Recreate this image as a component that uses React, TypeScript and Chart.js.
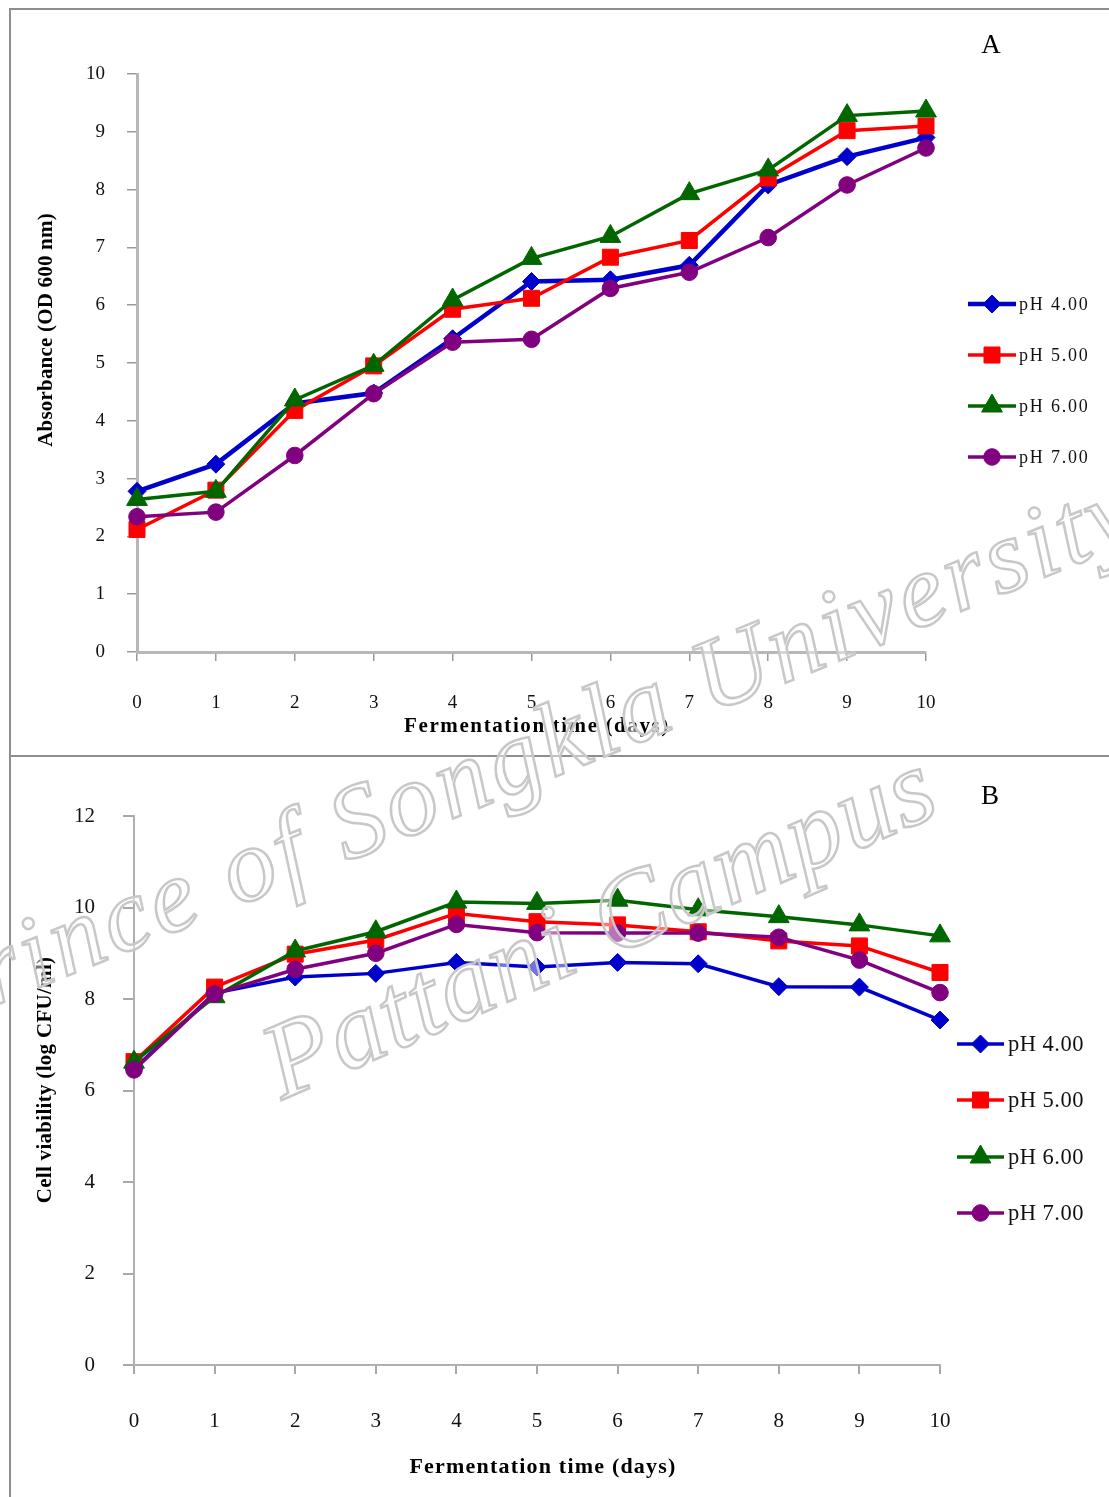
import React, { useEffect, useRef } from 'react';
import { Chart, registerables } from 'chart.js';

Chart.register(...registerables);

// ---------- data ----------
const days = [0, 1, 2, 3, 4, 5, 6, 7, 8, 9, 10];
const seriesLabels = ['pH 4.00', 'pH 5.00', 'pH 6.00', 'pH 7.00'];

// Panel A: Absorbance (OD 600 nm)
const absorbancePH4 = [2.78, 3.25, 4.3, 4.48, 5.42, 6.41, 6.44, 6.69, 8.08, 8.57, 8.9];
const absorbancePH5 = [2.12, 2.8, 4.18, 4.95, 5.93, 6.12, 6.83, 7.12, 8.2, 9.02, 9.1];
const absorbancePH6 = [2.64, 2.78, 4.36, 4.96, 6.09, 6.81, 7.19, 7.93, 8.34, 9.28, 9.36];
const absorbancePH7 = [2.34, 2.42, 3.4, 4.47, 5.36, 5.41, 6.29, 6.57, 7.17, 8.08, 8.72];

// Panel B: Cell viability (log CFU/ml)
const viabilityPH4 = [6.47, 8.13, 8.48, 8.56, 8.8, 8.7, 8.8, 8.77, 8.27, 8.26, 7.54];
const viabilityPH5 = [6.63, 8.26, 8.98, 9.29, 9.87, 9.69, 9.62, 9.47, 9.27, 9.16, 8.58];
const viabilityPH6 = [6.62, 8.05, 9.05, 9.47, 10.12, 10.09, 10.16, 9.95, 9.8, 9.62, 9.38];
const viabilityPH7 = [6.45, 8.11, 8.65, 9.0, 9.63, 9.45, 9.44, 9.44, 9.35, 8.85, 8.14];

const absorbanceYTicks = [0, 1, 2, 3, 4, 5, 6, 7, 8, 9, 10];
const viabilityYTicks = [0, 2, 4, 6, 8, 10, 12];
const dayTicks = [0, 1, 2, 3, 4, 5, 6, 7, 8, 9, 10];

// ---------- styles ----------
const SERIF = '"Liberation Serif", "Times New Roman", serif';
const seriesColors = ['#0000CC', '#FF0000', '#006600', '#800080'];
const seriesMarkers = ['rectRot', 'rect', 'triangle', 'circle'];
const markerRadius = [9, 11.3, 12, 8.3];

function drawMarker(ctx: CanvasRenderingContext2D, style: string, x: number, y: number, r: number, color: string) {
  ctx.beginPath();
  if (style === 'circle') {
    ctx.arc(x, y, r, 0, Math.PI * 2);
  } else if (style === 'rect') {
    const h = r * Math.SQRT1_2;
    ctx.rect(x - h, y - h, 2 * h, 2 * h);
  } else if (style === 'rectRot') {
    ctx.moveTo(x, y - r);
    ctx.lineTo(x + r, y);
    ctx.lineTo(x, y + r);
    ctx.lineTo(x - r, y);
    ctx.closePath();
  } else {
    ctx.moveTo(x, y - r);
    ctx.lineTo(x + 0.866 * r, y + 0.5 * r);
    ctx.lineTo(x - 0.866 * r, y + 0.5 * r);
    ctx.closePath();
  }
  ctx.fillStyle = color;
  ctx.fill();
  ctx.lineWidth = 1;
  ctx.strokeStyle = color;
  ctx.stroke();
}

type OverlayCfg = {
  legendY: number[];
  legendX1: number;
  legendX2: number;
  legendTextX: number;
  legendFont: string;
  legendSpacing: string;
  panelLabel: string;
  panelLabelX: number;
  panelLabelY: number;
  panelLabelFont: string;
  xTitle: string;
  xTitleX: number;
  xTitleY: number;
  xTitleFont: string;
  xTitleSpacing: string;
  yTitle: string;
  yTitleX: number;
  yTitleY: number;
  yTitleFont: string;
  yTitleSpacing: string;
};

function makeOverlay(cfg: OverlayCfg) {
  return {
    id: 'overlay',
    afterDraw(chart: any) {
      const ctx: CanvasRenderingContext2D = chart.ctx;
      ctx.save();
      // legend
      chart.data.datasets.forEach((ds: any, i: number) => {
        const y = cfg.legendY[i];
        ctx.beginPath();
        ctx.strokeStyle = ds.borderColor;
        ctx.lineWidth = ds.borderWidth;
        ctx.moveTo(cfg.legendX1, y);
        ctx.lineTo(cfg.legendX2, y);
        ctx.stroke();
        drawMarker(ctx, ds.pointStyle, (cfg.legendX1 + cfg.legendX2) / 2, y, ds.pointRadius, ds.borderColor);
        ctx.fillStyle = '#111';
        ctx.font = cfg.legendFont;
        (ctx as any).letterSpacing = cfg.legendSpacing;
        ctx.textAlign = 'left';
        ctx.textBaseline = 'middle';
        ctx.fillText(ds.label, cfg.legendTextX, y + 1);
      });
      // panel label
      (ctx as any).letterSpacing = '0px';
      ctx.font = cfg.panelLabelFont;
      ctx.fillStyle = '#000';
      ctx.textAlign = 'center';
      ctx.textBaseline = 'middle';
      ctx.fillText(cfg.panelLabel, cfg.panelLabelX, cfg.panelLabelY);
      // x title
      ctx.font = cfg.xTitleFont;
      (ctx as any).letterSpacing = cfg.xTitleSpacing;
      ctx.fillText(cfg.xTitle, cfg.xTitleX, cfg.xTitleY);
      // y title
      ctx.translate(cfg.yTitleX, cfg.yTitleY);
      ctx.rotate(-Math.PI / 2);
      ctx.font = cfg.yTitleFont;
      (ctx as any).letterSpacing = cfg.yTitleSpacing;
      ctx.fillText(cfg.yTitle, 0, 0);
      ctx.restore();
    },
  };
}

function buildDatasets(values: number[][], lineWidths: number[]) {
  return values.map((vals, i) => ({
    label: seriesLabels[i],
    data: days.map((d, j) => ({ x: d, y: vals[j] })),
    borderColor: seriesColors[i],
    backgroundColor: seriesColors[i],
    pointBackgroundColor: seriesColors[i],
    pointBorderColor: seriesColors[i],
    pointStyle: seriesMarkers[i],
    pointRadius: markerRadius[i],
    pointBorderWidth: 1,
    borderWidth: lineWidths[i],
    tension: 0,
    clip: false,
    order: values.length - i,
  }));
}

type PanelCfg = {
  width: number;
  height: number;
  area: { left: number; top: number; right: number; bottom: number };
  yTicks: number[];
  values: number[][];
  lineWidths: number[];
  tickFont: number;
  yTickLen: number;
  yTickPad: number;
  xTickLen: number;
  xTickPad: number;
  axisColor: string;
  axisWidth: number;
  tickColor: string;
  tickWidth: number;
  overlay: OverlayCfg;
};

function ChartPanel({ cfg, top }: { cfg: PanelCfg; top: number }) {
  const ref = useRef<HTMLCanvasElement>(null);
  useEffect(() => {
    const { area } = cfg;
    const chart = new Chart(ref.current as HTMLCanvasElement, {
      type: 'line',
      data: { datasets: buildDatasets(cfg.values, cfg.lineWidths) as any },
      options: {
        animation: false,
        responsive: false,
        devicePixelRatio: 1,
        layout: { padding: { left: 0, top: area.top, right: cfg.width - area.right, bottom: 0 } },
        plugins: { legend: { display: false }, tooltip: { enabled: false } },
        scales: {
          x: {
            type: 'linear',
            min: dayTicks[0],
            max: dayTicks[dayTicks.length - 1],
            afterFit: (s: any) => {
              s.height = cfg.height - area.bottom;
            },
            afterBuildTicks: (s: any) => {
              s.ticks = dayTicks.map((v) => ({ value: v }));
            },
            ticks: {
              color: '#111',
              font: { family: SERIF, size: cfg.tickFont },
              padding: cfg.xTickPad,
              maxRotation: 0,
              autoSkip: false,
            },
            grid: {
              display: true,
              drawOnChartArea: false,
              drawTicks: true,
              tickLength: cfg.xTickLen,
              tickColor: cfg.tickColor,
              tickWidth: cfg.tickWidth,
              color: cfg.tickColor,
              lineWidth: cfg.tickWidth,
            },
            border: { display: true, color: cfg.axisColor, width: cfg.axisWidth },
          },
          y: {
            type: 'linear',
            min: cfg.yTicks[0],
            max: cfg.yTicks[cfg.yTicks.length - 1],
            afterFit: (s: any) => {
              s.width = area.left;
            },
            afterBuildTicks: (s: any) => {
              s.ticks = cfg.yTicks.map((v) => ({ value: v }));
            },
            ticks: {
              color: '#111',
              font: { family: SERIF, size: cfg.tickFont },
              padding: cfg.yTickPad,
            },
            grid: {
              display: true,
              drawOnChartArea: false,
              drawTicks: true,
              tickLength: cfg.yTickLen,
              tickColor: cfg.tickColor,
              tickWidth: cfg.tickWidth,
              color: cfg.tickColor,
              lineWidth: cfg.tickWidth,
            },
            border: { display: true, color: cfg.axisColor, width: cfg.axisWidth },
          },
        },
      } as any,
      plugins: [makeOverlay(cfg.overlay) as any],
    });
    return () => chart.destroy();
  }, []);
  return (
    <canvas
      ref={ref}
      width={cfg.width}
      height={cfg.height}
      style={{ position: 'absolute', left: 0, top, width: cfg.width, height: cfg.height }}
    />
  );
}

const panelA: PanelCfg = {
  width: 1109,
  height: 756,
  area: { left: 137, top: 74, right: 926, bottom: 652 },
  yTicks: absorbanceYTicks,
  values: [absorbancePH4, absorbancePH5, absorbancePH6, absorbancePH7],
  lineWidths: [4.5, 3.5, 3.5, 3.5],
  tickFont: 19,
  yTickLen: 10,
  yTickPad: 22,
  xTickLen: 9,
  xTickPad: 31,
  axisColor: '#b7b7b7',
  axisWidth: 3,
  tickColor: '#9a9a9a',
  tickWidth: 1.5,
  overlay: {
    legendY: [304, 355, 406, 457],
    legendX1: 968,
    legendX2: 1016,
    legendTextX: 1019,
    legendFont: `18px ${SERIF}`,
    legendSpacing: '1.8px',
    panelLabel: 'A',
    panelLabelX: 991,
    panelLabelY: 46,
    panelLabelFont: `27px ${SERIF}`,
    xTitle: 'Fermentation time (days)',
    xTitleX: 537,
    xTitleY: 727,
    xTitleFont: `bold 21px ${SERIF}`,
    xTitleSpacing: '1.6px',
    yTitle: 'Absorbance (OD 600 nm)',
    yTitleX: 47,
    yTitleY: 330,
    yTitleFont: `bold 21px ${SERIF}`,
    yTitleSpacing: '0.2px',
  },
};

const panelB: PanelCfg = {
  width: 1109,
  height: 741,
  area: { left: 134, top: 60, right: 940, bottom: 609 },
  yTicks: viabilityYTicks,
  values: [viabilityPH4, viabilityPH5, viabilityPH6, viabilityPH7],
  lineWidths: [3.5, 3.5, 3.5, 3.5],
  tickFont: 21,
  yTickLen: 11,
  yTickPad: 28,
  xTickLen: 9,
  xTickPad: 35,
  axisColor: '#b0b0b0',
  axisWidth: 2,
  tickColor: '#a8a8a8',
  tickWidth: 2,
  overlay: {
    legendY: [288, 344, 401, 457],
    legendX1: 957,
    legendX2: 1004,
    legendTextX: 1008,
    legendFont: `22.5px ${SERIF}`,
    legendSpacing: '0.5px',
    panelLabel: 'B',
    panelLabelX: 990,
    panelLabelY: 41,
    panelLabelFont: `27px ${SERIF}`,
    xTitle: 'Fermentation time (days)',
    xTitleX: 543,
    xTitleY: 711,
    xTitleFont: `bold 22px ${SERIF}`,
    xTitleSpacing: '1.2px',
    yTitle: 'Cell viability (log CFU/ml)',
    yTitleX: 46,
    yTitleY: 324,
    yTitleFont: `bold 21px ${SERIF}`,
    yTitleSpacing: '0.3px',
  },
};

export default function App() {
  return (
    <div
      style={{
        position: 'absolute',
        left: 0,
        top: 0,
        width: 1109,
        height: 1497,
        overflow: 'hidden',
        background: '#fff',
      }}
    >
      <div
        style={{
          position: 'absolute',
          left: 9,
          top: 8,
          width: 1200,
          height: 749,
          boxSizing: 'border-box',
          borderTop: '2px solid #8e8e8e',
          borderLeft: '2px solid #8e8e8e',
          borderBottom: '2px solid #8e8e8e',
        }}
      />
      <div
        style={{
          position: 'absolute',
          left: 9,
          top: 757,
          width: 1200,
          height: 800,
          boxSizing: 'border-box',
          borderLeft: '2px solid #8e8e8e',
        }}
      />
      <ChartPanel cfg={panelA} top={0} />
      <ChartPanel cfg={panelB} top={756} />
      <svg
        width={1109}
        height={1497}
        style={{ position: 'absolute', left: 0, top: 0, pointerEvents: 'none' }}
      >
        <g
          fontFamily={SERIF}
          fontStyle="italic"
          fill="rgba(255,255,255,0.45)"
          stroke="#c8c8c8"
          strokeWidth={2.5}
        >
          <text
            x={-70}
            y={1032}
            fontSize={104}
            textLength={1310}
            lengthAdjust="spacing"
            transform="rotate(-22.2 -70 1032)"
          >
            Prince of Songkla University
          </text>
          <text
            x={282}
            y={1100}
            fontSize={108}
            textLength={720}
            lengthAdjust="spacing"
            transform="rotate(-23.5 282 1100)"
          >
            Pattani Campus
          </text>
        </g>
      </svg>
    </div>
  );
}
